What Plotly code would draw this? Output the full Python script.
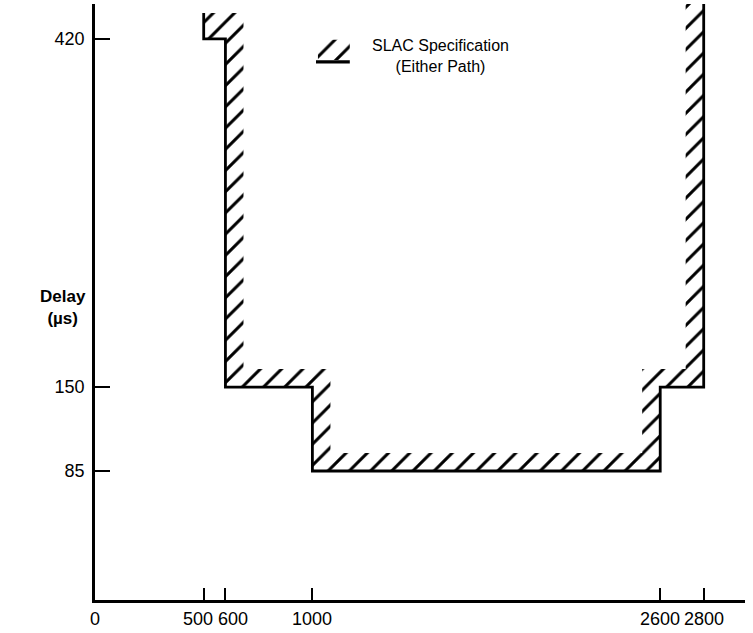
import plotly.graph_objects as go

# ---- data ----
x_ticks = [0, 500, 600, 1000, 2600, 2800]
y_ticks = [85, 150, 420]
# SLAC specification envelope (delay in µs vs. x)
spec_x = [500, 500, 600, 600, 1000, 1000, 2600, 2600, 2800, 2800]
spec_y = [440, 420, 420, 150, 150, 85, 85, 150, 150, 447]

# ---- style ----
FONT = "Liberation Sans, Arial, sans-serif"
X_RANGE = [0, 2990]
Y_RANGE = [-15, 447]
DX, DY = 83, 14          # hatch strip width in data units
# small horizontal nudges (px) so the crowded 500/600 labels do not collide
label_shift = {500: -6, 600: 8}

# hatched strip along the inside of the envelope
inner_x = [2800 - DX, 2800 - DX, 2600 - DX, 2600 - DX, 1000 + DX, 1000 + DX, 600 + DX, 600 + DX]
inner_y = [447, 150 + DY, 150 + DY, 85 + DY, 85 + DY, 150 + DY, 150 + DY, 440]
hatch_x = spec_x + inner_x + [spec_x[0]]
hatch_y = spec_y + inner_y + [spec_y[0]]

pattern = dict(shape="/", size=15, solidity=0.2, fgcolor="black", bgcolor="white",
               fgopacity=1, fillmode="overlay")

fig = go.Figure()
fig.add_trace(go.Scatter(x=hatch_x, y=hatch_y, fill="toself", mode="none",
                         fillcolor="rgba(0,0,0,0)", fillpattern=pattern,
                         hoverinfo="skip", showlegend=False))
fig.add_trace(go.Scatter(x=spec_x, y=spec_y, mode="lines",
                         line=dict(color="black", width=2.8), showlegend=False))

# legend key (drawn on a hidden overlay 0..1 axis pair)
fig.add_trace(go.Scatter(x=[0.343, 0.392, 0.392, 0.343, 0.343], y=[0.906, 0.906, 0.94, 0.94, 0.906],
                         xaxis="x2", yaxis="y2", fill="toself", mode="none",
                         fillcolor="rgba(0,0,0,0)", fillpattern=pattern,
                         hoverinfo="skip", showlegend=False))
fig.add_trace(go.Scatter(x=[0.34, 0.392], y=[0.903, 0.903], xaxis="x2", yaxis="y2",
                         mode="lines", line=dict(color="black", width=3.2),
                         hoverinfo="skip", showlegend=False))

fig.add_annotation(xref="paper", yref="paper", x=0.532, y=0.912,
                   text="SLAC Specification<br>(Either Path)", showarrow=False,
                   align="center", xanchor="center", yanchor="middle",
                   font=dict(family=FONT, size=16, color="black"))
fig.add_annotation(xref="paper", yref="paper", x=-0.05, y=0.49,
                   text="<b>Delay</b><br><b>(µs)</b>", showarrow=False,
                   align="center", xanchor="center", yanchor="middle",
                   font=dict(family=FONT, size=17, color="black"))

# x tick labels as annotations at the tick values
for v in x_ticks:
    fig.add_annotation(x=v, xref="x", y=0, yref="paper", text=str(v), showarrow=False,
                       xanchor="center", yanchor="top", yshift=-7,
                       xshift=label_shift.get(v, 0),
                       font=dict(family=FONT, size=18, color="black"))

fig.update_layout(
    width=753, height=633,
    margin=dict(l=95, r=8, t=4, b=33),
    plot_bgcolor="white", paper_bgcolor="white",
    font=dict(family=FONT, size=18, color="black"),
    xaxis=dict(range=X_RANGE, tickvals=x_ticks, showticklabels=False,
               ticks="inside", ticklen=12, tickwidth=2.2, tickcolor="black",
               showline=True, linecolor="black", linewidth=2.8,
               showgrid=False, zeroline=False, fixedrange=True, automargin=False),
    yaxis=dict(range=Y_RANGE, tickvals=y_ticks, ticktext=[str(v) for v in y_ticks],
               ticks="inside", ticklen=15, tickwidth=2.2, tickcolor="black",
               ticklabelstandoff=4,
               showline=True, linecolor="black", linewidth=2.8,
               showgrid=False, zeroline=False, fixedrange=True, automargin=False),
    xaxis2=dict(overlaying="x", range=[0, 1], visible=False, fixedrange=True),
    yaxis2=dict(overlaying="y", range=[0, 1], visible=False, fixedrange=True),
)

fig.write_html("out.html", config={"displayModeBar": False},
               post_script="document.body.style.margin='0';")
